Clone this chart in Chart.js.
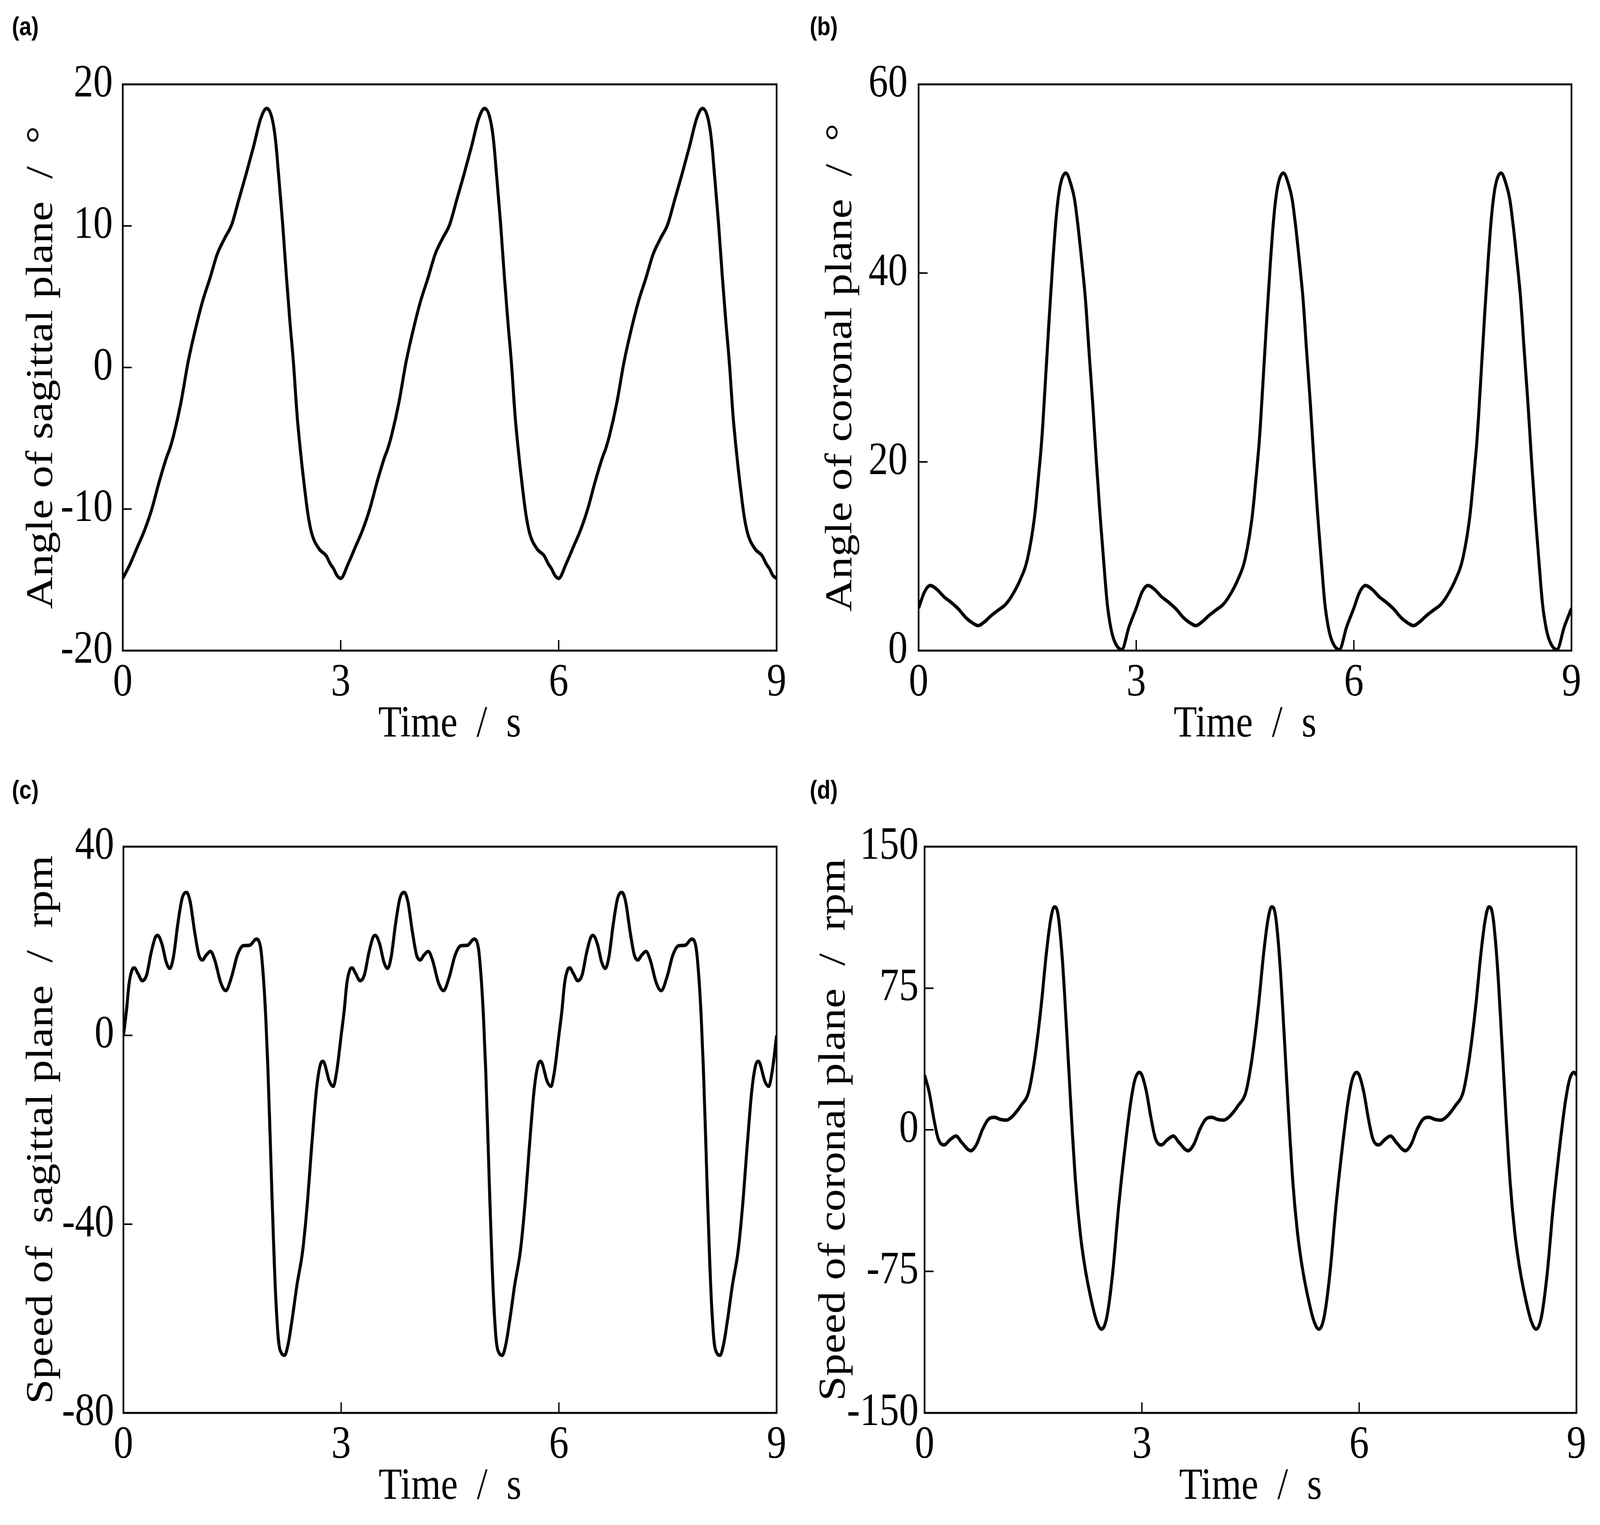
<!DOCTYPE html>
<html lang="en">
<head>
    <meta charset="UTF-8">
    <title>Trunk angle and speed</title>
    <script src="https://cdn.jsdelivr.net/npm/chart.js@4"></script>
    <style>
        html, body {
            margin: 0;
            padding: 0;
            overflow: hidden;
            background: #fff;
        }
        #fig {
            position: relative;
            width: 4823px;
            height: 3905px;
            transform-origin: 0 0;
        }
        canvas { position: absolute; }
        .tag {
            position: absolute;
            font: bold 66px "Liberation Sans", Arial, sans-serif;
            line-height: 1;
            color: #000;
        }
    </style>
</head>
<body>
<div id="fig">
    <canvas id="chartA"></canvas>
    <canvas id="chartB"></canvas>
    <canvas id="chartC"></canvas>
    <canvas id="chartD"></canvas>

    <div class="tag" style="left:36px; top:34px;">(a)</div>
    <div class="tag" style="left:2441px; top:34px;">(b)</div>
    <div class="tag" style="left:36px; top:1989px;">(c)</div>
    <div class="tag" style="left:2441px; top:1989px;">(d)</div>
</div>

    <script>
        // One gait cycle (0-3 s); the figure repeats it three times
        const cycleStarts = [0, 3, 6];
        const timeTicks = [0, 3, 6, 9];

        // (a) angle of sagittal plane, degrees
        const sagAngleT = [0, 0.1, 0.2, 0.3, 0.4, 0.5, 0.6, 0.65, 0.7, 0.8, 0.9, 1.0, 1.1, 1.2, 1.3, 1.4, 1.5, 1.6, 1.7, 1.8, 1.9, 1.98, 2.05, 2.1, 2.15, 2.2, 2.25, 2.3, 2.35, 2.4, 2.45, 2.5, 2.55, 2.6, 2.7, 2.8, 2.86, 2.9, 2.95, 3.0];
        const sagAngleV = [-14.9, -13.9, -12.7, -11.5, -10.0, -8.1, -6.4, -5.7, -4.8, -2.5, 0.4, 2.7, 4.7, 6.3, 8.0, 9.1, 10.1, 11.9, 13.7, 15.6, 17.6, 18.3, 17.7, 16.2, 13.3, 10.2, 6.6, 3.3, 0.3, -3.4, -6.1, -8.4, -10.4, -11.7, -12.8, -13.3, -13.9, -14.2, -14.7, -14.9];

        // (b) angle of coronal plane, degrees
        const corAngleT = [0, 0.08, 0.16, 0.25, 0.35, 0.45, 0.55, 0.65, 0.75, 0.82, 0.9, 1.0, 1.1, 1.2, 1.3, 1.4, 1.5, 1.6, 1.65, 1.7, 1.75, 1.8, 1.85, 1.9, 1.95, 2.03, 2.1, 2.15, 2.2, 2.25, 2.3, 2.35, 2.4, 2.45, 2.5, 2.55, 2.6, 2.65, 2.7, 2.8, 2.9, 3.0];
        const corAngleV = [4.5, 6.2, 6.9, 6.5, 5.7, 5.1, 4.4, 3.5, 2.9, 2.65, 3.0, 3.7, 4.3, 4.9, 6.0, 7.5, 9.7, 14.3, 18.2, 22.6, 28.8, 35.2, 41.2, 46.2, 49.2, 50.6, 49.4, 47.8, 44.8, 41.2, 37.2, 31.6, 26.2, 20.1, 14.5, 9.6, 5.0, 2.4, 1.0, 0.1, 2.5, 4.5];

        // (c) speed of sagittal plane, rpm
        const sagSpeedT = [0, 0.04, 0.08, 0.12, 0.15, 0.2, 0.26, 0.32, 0.38, 0.44, 0.47, 0.53, 0.59, 0.64, 0.69, 0.75, 0.81, 0.87, 0.92, 0.98, 1.04, 1.09, 1.14, 1.2, 1.26, 1.34, 1.41, 1.49, 1.57, 1.65, 1.74, 1.83, 1.89, 1.93, 1.96, 1.99, 2.02, 2.05, 2.08, 2.11, 2.14, 2.18, 2.22, 2.27, 2.33, 2.39, 2.47, 2.53, 2.6, 2.66, 2.72, 2.75, 2.84, 2.89, 2.94, 3.0];
        const sagSpeedV = [0, 5.0, 11.2, 13.9, 14.3, 13.1, 11.6, 12.8, 17.4, 20.8, 21.2, 19.4, 15.5, 14.2, 16.7, 23.7, 29.1, 30.3, 28.3, 22.1, 17.0, 16.0, 17.0, 17.8, 15.9, 11.2, 9.5, 12.4, 17.0, 19.0, 19.1, 20.4, 18.6, 12.0, 4.2, -6.7, -20.7, -35.5, -48.7, -58.8, -65.1, -67.4, -67.8, -65.4, -59.6, -53.0, -45.6, -36.3, -22.3, -11.4, -5.9, -5.5, -9.8, -10.8, -7.5, 0];

        // (d) speed of coronal plane, rpm
        const corSpeedT = [0, 0.065, 0.127, 0.188, 0.27, 0.351, 0.433, 0.515, 0.637, 0.719, 0.8, 0.882, 0.964, 1.045, 1.127, 1.209, 1.331, 1.434, 1.495, 1.556, 1.617, 1.679, 1.74, 1.791, 1.842, 1.903, 1.964, 2.026, 2.087, 2.148, 2.21, 2.291, 2.373, 2.444, 2.516, 2.597, 2.679, 2.761, 2.843, 2.904, 2.965, 3.0];
        const corSpeedV = [29, 19.7, 6.0, -4.7, -8.0, -5.3, -3.3, -6.8, -11.1, -7.6, 0.2, 5.6, 6.6, 5.5, 5.1, 7.0, 12.9, 19.7, 31.4, 47.9, 68.4, 92.7, 111.2, 118.1, 114.2, 89.8, 50.8, 8.0, -29.0, -54.4, -71.9, -88.4, -101.1, -105.6, -99.2, -75.8, -40.7, -11.5, 13.8, 26.5, 30.4, 29];

        Chart.defaults.font.family = '"Liberation Serif", "Times New Roman", serif';
        Chart.defaults.color = '#000';

        // the figure is laid out on a 4823 x 3905 sheet; fit it to whatever viewport we get
        const fig = document.getElementById('fig');
        const sx = document.documentElement.clientWidth / 4823;
        const sy = document.documentElement.clientHeight / 3905;
        fig.style.transform = 'scale(' + sx + ',' + sy + ')';

        function cyclePoints(times, values) {
            const pts = [];
            cycleStarts.forEach((start, k) => {
                times.forEach((t, i) => {
                    if (k > 0 && i === 0) return; // shared with end of previous cycle
                    pts.push({ x: start + t, y: values[i] });
                });
            });
            return pts;
        }

        // box with inward ticks, like the original figure
        const frame = {
            id: 'frame',
            afterDatasetsDraw(chart) {
                const { ctx, chartArea: a, scales } = chart;
                ctx.save();
                ctx.strokeStyle = '#000';
                ctx.lineWidth = 4;
                ctx.beginPath();
                scales.x.ticks.forEach(t => {
                    const px = scales.x.getPixelForValue(t.value);
                    ctx.moveTo(px, a.bottom);
                    ctx.lineTo(px, a.bottom - 27);
                });
                scales.y.ticks.forEach(t => {
                    const py = scales.y.getPixelForValue(t.value);
                    ctx.moveTo(a.left, py);
                    ctx.lineTo(a.left + 27, py);
                });
                ctx.stroke();
                ctx.lineWidth = 5;
                ctx.strokeRect(a.left, a.top, a.right - a.left, a.bottom - a.top);
                ctx.restore();
            }
        };

        function makePanel(id, box, points, yOpts, yTitle) {
            const canvas = document.getElementById(id);
            canvas.width = box.w;
            canvas.height = box.h;
            canvas.style.left = box.left + 'px';
            canvas.style.top = box.top + 'px';
            canvas.style.width = box.w + 'px';
            canvas.style.height = box.h + 'px';

            return new Chart(canvas, {
                type: 'line',
                data: {
                    datasets: [{
                        data: points,
                        borderColor: '#000',
                        borderWidth: 9,
                        pointRadius: 0,
                        cubicInterpolationMode: 'monotone',
                        fill: false
                    }]
                },
                options: {
                    responsive: false,
                    animation: false,
                    devicePixelRatio: 1,
                    layout: { padding: { top: box.padTop, right: box.padRight, left: 0, bottom: 0 } },
                    plugins: { legend: { display: false }, tooltip: { enabled: false } },
                    scales: {
                        x: {
                            type: 'linear',
                            min: 0,
                            max: 9,
                            grid: { display: false, drawTicks: false },
                            border: { display: false },
                            afterBuildTicks(s) { s.ticks = timeTicks.map(v => ({ value: v })); },
                            ticks: { font: { size: 118 }, padding: 13, maxRotation: 0, autoSkip: false },
                            title: { display: true, text: 'Time  /  s', font: { size: 115 }, padding: { top: 0, bottom: box.xTitlePad } },
                            afterFit(s) { s.height = box.xHeight; s.paddingLeft = 0; s.paddingRight = 0; }
                        },
                        y: {
                            min: yOpts.min,
                            max: yOpts.max,
                            grid: { display: false, drawTicks: false },
                            border: { display: false },
                            afterBuildTicks(s) { s.ticks = yOpts.ticks.map(v => ({ value: v })); },
                            ticks: { font: { size: 118 }, padding: box.yTickPad, autoSkip: false },
                            title: { display: true, text: yTitle, font: { size: 115 }, padding: { top: box.yTitlePad, bottom: 0 } },
                            afterFit(s) { s.width = box.yWidth; s.paddingTop = 0; s.paddingBottom = 0; }
                        }
                    }
                },
                plugins: [frame]
            });
        }

        makePanel('chartA',
            { left: 0, top: 0, w: 2400, h: 1950, yWidth: 370, padTop: 216, padRight: 59, xHeight: 284, yTitlePad: 58, xTitlePad: 25, yTickPad: 30 },
            cyclePoints(sagAngleT, sagAngleV),
            { min: -20, max: 20, ticks: [-20, -10, 0, 10, 20] },
            'Angle of sagittal plane  /  °');

        makePanel('chartB',
            { left: 2400, top: 0, w: 2423, h: 1950, yWidth: 369, padTop: 216, padRight: 86, xHeight: 284, yTitlePad: 67, xTitlePad: 25, yTickPad: 33 },
            cyclePoints(corAngleT, corAngleV),
            { min: 0, max: 60, ticks: [0, 20, 40, 60] },
            'Angle of coronal plane  /  °');

        makePanel('chartC',
            { left: 0, top: 1952, w: 2400, h: 1953, yWidth: 372, padTop: 216, padRight: 59, xHeight: 287, yTitlePad: 58, xTitlePad: 28, yTickPad: 28 },
            cyclePoints(sagSpeedT, sagSpeedV),
            { min: -80, max: 40, ticks: [-80, -40, 0, 40] },
            'Speed of  sagittal plane  /  rpm');

        makePanel('chartD',
            { left: 2400, top: 1952, w: 2423, h: 1953, yWidth: 387, padTop: 216, padRight: 71, xHeight: 287, yTitlePad: 47, xTitlePad: 28, yTickPad: 18 },
            cyclePoints(corSpeedT, corSpeedV),
            { min: -150, max: 150, ticks: [-150, -75, 0, 75, 150] },
            'Speed of coronal plane  /  rpm');
    </script>
</body>
</html>
